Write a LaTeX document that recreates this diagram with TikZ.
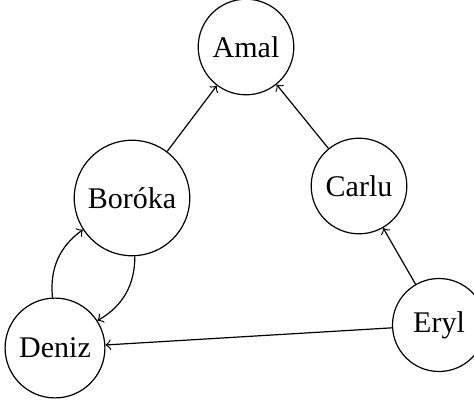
\documentclass[tikz,border=0pt]{standalone}
\usepackage{fontspec}
\setmainfont{Liberation Serif}
\begin{document}
\begin{tikzpicture}[x=0.3333pt,y=-0.3333pt,>=to]
      \useasboundingbox (0,0) rectangle (474,400);

      \begin{scope}[every node/.style={circle,draw,minimum size=31pt}]
        \node (1) at (246,47)  {Amal};
        \node (2) at (132,198) {Boróka};
        \node (3) at (359,186) {Carlu};
        \node (4) at (55,348)  {Deniz};
        \node (5) at (439,325) {Eryl};
      \end{scope}

      \begin{scope}[every edge/.style={draw,->}]
        \path (2) edge (1);
        \path (3) edge (1);
        \path (5) edge (3);
        \path (5) edge (4);
        \path (4) edge[bend left=30] (2);
        \path (2) edge[bend left=30] (4);
      \end{scope}

    \end{tikzpicture}
\end{document}
